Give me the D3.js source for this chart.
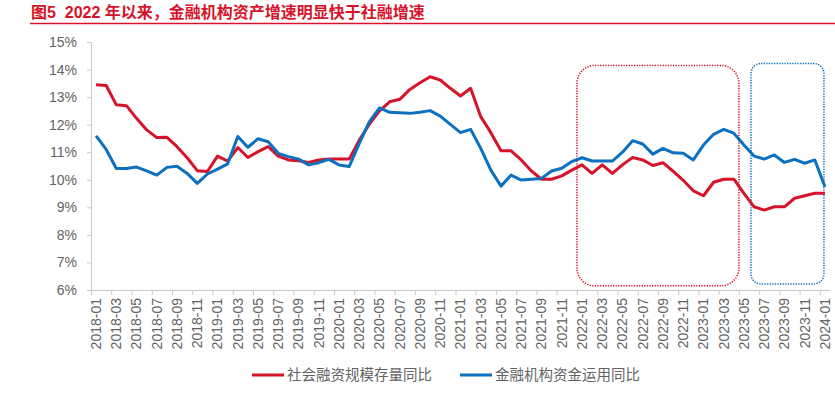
<!DOCTYPE html>
<html><head><meta charset="utf-8">
<script src="https://cdn.jsdelivr.net/npm/d3@7"></script>
<style>
html,body{margin:0;padding:0;background:#fff;}
svg{display:block;font-family:"Liberation Sans",Arial,"Noto Sans CJK SC",sans-serif;}
</style></head><body>
<svg id="chart" width="835" height="410"></svg>
<script>
const title = "图5  2022 年以来，金融机构资产增速明显快于社融增速";
const categories = [
"2018-01","2018-02","2018-03","2018-04","2018-05","2018-06","2018-07","2018-08","2018-09","2018-10","2018-11","2018-12",
"2019-01","2019-02","2019-03","2019-04","2019-05","2019-06","2019-07","2019-08","2019-09","2019-10","2019-11","2019-12",
"2020-01","2020-02","2020-03","2020-04","2020-05","2020-06","2020-07","2020-08","2020-09","2020-10","2020-11","2020-12",
"2021-01","2021-02","2021-03","2021-04","2021-05","2021-06","2021-07","2021-08","2021-09","2021-10","2021-11","2021-12",
"2022-01","2022-02","2022-03","2022-04","2022-05","2022-06","2022-07","2022-08","2022-09","2022-10","2022-11","2022-12",
"2023-01","2023-02","2023-03","2023-04","2023-05","2023-06","2023-07","2023-08","2023-09","2023-10","2023-11","2023-12",
"2024-01"];
const seriesNames = ["社会融资规模存量同比","金融机构资金运用同比"];
const socialFinancing = [
13.45,13.42,12.72,12.69,12.23,11.81,11.53,11.54,11.2,10.8,10.33,10.3,
10.86,10.68,11.17,10.81,11.02,11.2,10.86,10.72,10.69,10.63,10.72,10.75,
10.75,10.75,11.44,12.02,12.5,12.83,12.92,13.28,13.52,13.74,13.62,13.32,
13.04,13.32,12.29,11.71,11.05,11.05,10.72,10.32,10.02,10.02,10.14,10.35,
10.54,10.23,10.54,10.23,10.54,10.81,10.72,10.52,10.62,10.31,9.98,9.6,
9.42,9.91,10.02,10.02,9.51,9.02,8.9,9.02,9.02,9.33,9.42,9.51,
9.51];
const fundUse = [
11.59,11.1,10.41,10.41,10.46,10.32,10.17,10.45,10.49,10.23,9.87,10.21,
10.39,10.58,11.57,11.18,11.49,11.38,10.96,10.84,10.75,10.54,10.62,10.74,
10.54,10.48,11.32,12.11,12.61,12.45,12.43,12.41,12.45,12.51,12.31,12.01,
11.71,11.83,11.14,10.35,9.77,10.17,9.99,10.02,10.05,10.32,10.42,10.66,
10.8,10.68,10.68,10.68,11.0,11.42,11.3,10.93,11.14,10.98,10.96,10.72,
11.26,11.65,11.83,11.69,11.26,10.86,10.75,10.9,10.63,10.74,10.6,10.72,
9.75];
const yTicks = [6,7,8,9,10,11,12,13,14,15];
const xTickLabels = categories.filter((d,i)=>i%2===0);
// highlight boxes: category range and value range
const boxStart = ["2022-01","2023-06"];
const boxEnd   = ["2023-04","2024-01"];
const boxTop   = [14.15,14.22];
const boxBottom= [6.15,6.22];

const RED = "#d7132a", BLUE = "#0a70bf", GRAY = "#636363", AXIS = "#c8c8c8";
const svg = d3.select("#chart");
const pL = 91, pR = 830, pT = 42, pB = 290;

const x = d3.scaleBand().domain(categories).range([pL, pR]).padding(0);
const y = d3.scaleLinear().domain([6,15]).range([pB, pT]);
const bw = x.bandwidth();

// title
svg.append("text").attr("x",31).attr("y",18).attr("fill",RED)
  .attr("font-size",16).attr("font-weight","bold")
  .style("white-space","pre")
  .attr("font-family",'"Liberation Sans",Arial,"Noto Sans CJK SC",sans-serif')
  .text(title);
svg.append("line").attr("x1",30).attr("x2",835).attr("y1",23.5).attr("y2",23.5)
  .attr("stroke",RED).attr("stroke-width",1.5);

// y axis
const yAxis = svg.append("g").attr("transform",`translate(${pL},0)`)
  .call(d3.axisLeft(y).tickValues(yTicks).tickFormat(d=>d+"%").tickSize(4).tickPadding(10));
yAxis.select(".domain").attr("stroke",AXIS);
yAxis.selectAll(".tick line").attr("stroke",AXIS);
yAxis.selectAll("text").attr("fill",GRAY).attr("font-size",14);

// x axis
const xAxis = svg.append("g").attr("transform",`translate(0,${pB})`)
  .call(d3.axisBottom(x).tickValues(xTickLabels).tickSize(0).tickPadding(0));
xAxis.select(".domain").attr("stroke",AXIS).attr("d",`M${pL},0.5H${pR}`);
xAxis.selectAll(".tick text").attr("fill",GRAY).attr("font-size",14)
  .attr("transform","rotate(-90)").attr("text-anchor","end")
  .attr("x",-8).attr("y",0).attr("dy","0.35em");
xAxis.selectAll(".tick-mark").data(xTickLabels).enter().append("line")
  .attr("class","tick-mark")
  .attr("x1",d=>x(d)+0.5).attr("x2",d=>x(d)+0.5).attr("y1",0).attr("y2",5)
  .attr("stroke",AXIS);

// boxes
const radii = [18,10], boxColors = [RED,BLUE], boxPad = [0,2];
boxStart.forEach((s,i)=>{
  const x0 = x(s)+boxPad[i];
  const x1 = i===0 ? x(boxEnd[i])+bw : x(boxEnd[i])+bw/2 - 1;
  svg.append("rect").attr("x",x0).attr("y",y(boxTop[i]))
    .attr("width",x1-x0).attr("height",y(boxBottom[i])-y(boxTop[i]))
    .attr("rx",radii[i]).attr("ry",radii[i])
    .attr("fill","none").attr("stroke",boxColors[i]).attr("stroke-width",1.5)
    .attr("stroke-dasharray","1.3,1.3");
});

// lines
const line = d3.line().x((d,i)=>x(categories[i])+bw/2).y(d=>y(d));
[[socialFinancing,RED],[fundUse,BLUE]].forEach(([data,c])=>{
  svg.append("path").datum(data).attr("d",line).attr("fill","none")
    .attr("stroke",c).attr("stroke-width",3).attr("stroke-linejoin","round");
});

// legend
const legX = [252,460], legColors=[RED,BLUE];
seriesNames.forEach((n,i)=>{
  svg.append("line").attr("x1",legX[i]).attr("x2",legX[i]+32).attr("y1",375).attr("y2",375)
    .attr("stroke",legColors[i]).attr("stroke-width",3);
  svg.append("text").attr("x",legX[i]+35).attr("y",375).attr("dy","0.35em")
    .attr("fill",GRAY).attr("font-size",14.5)
    .attr("font-family",'"Noto Sans CJK SC",sans-serif').text(n);
});
</script>
</body></html>
